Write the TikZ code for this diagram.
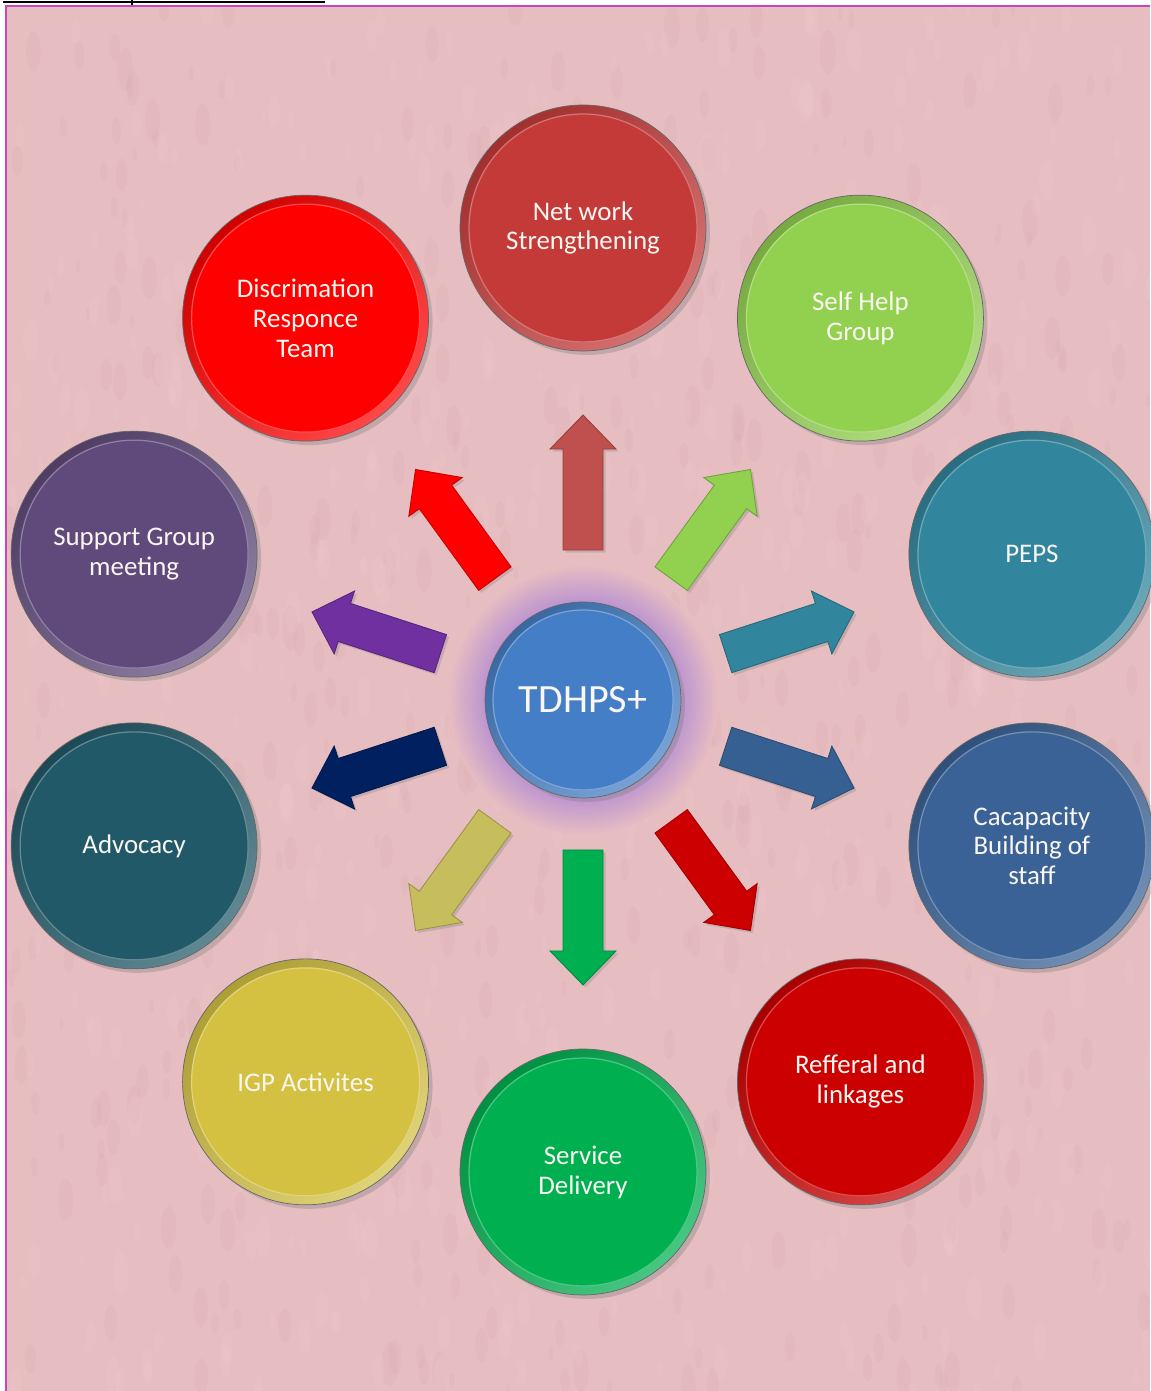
\documentclass[tikz,border=0pt]{standalone}
\usepackage{fontspec}
\setmainfont{Carlito}
\usetikzlibrary{calc,shadows}

\definecolor{bg}{RGB}{230,189,193}
\definecolor{bgdark}{RGB}{214,170,176}
\definecolor{bglight}{RGB}{242,208,211}
\definecolor{framec}{RGB}{200,70,185}
\definecolor{glowc}{RGB}{188,148,208}
\definecolor{txt}{RGB}{250,246,242}
% circle colours
\definecolor{cNet}{RGB}{196,58,56}
\definecolor{cSelf}{RGB}{146,208,80}
\definecolor{cPeps}{RGB}{49,133,156}
\definecolor{cCap}{RGB}{58,98,150}
\definecolor{cRef}{RGB}{204,0,0}
\definecolor{cServ}{RGB}{0,176,80}
\definecolor{cIgp}{RGB}{212,193,66}
\definecolor{cAdv}{RGB}{33,89,104}
\definecolor{cSup}{RGB}{96,74,123}
\definecolor{cDis}{RGB}{255,0,0}
\definecolor{cCtr}{RGB}{68,126,198}
% arrow colours
\definecolor{aNet}{RGB}{192,80,77}
\definecolor{aSelf}{RGB}{146,208,80}
\definecolor{aPeps}{RGB}{49,133,156}
\definecolor{aCap}{RGB}{55,96,146}
\definecolor{aRef}{RGB}{204,0,0}
\definecolor{aServ}{RGB}{0,176,80}
\definecolor{aIgp}{RGB}{198,190,92}
\definecolor{aAdv}{RGB}{0,32,96}
\definecolor{aSup}{RGB}{112,48,160}
\definecolor{aDis}{RGB}{255,0,0}

\pgfdeclareradialshading{glow}{\pgfpointorigin}{color(0bp)=(glowc); color(18bp)=(glowc); color(20.5bp)=(glowc!65!bg); color(25bp)=(bg); color(50bp)=(bg)}

\tikzset{
  face/.style={circle, inner sep=0pt, align=center, text=txt,
    font=\fontsize{15.3}{17}\selectfont, line width=0.7pt},
  rim/.style={draw=black!60, line width=0.4pt,
    drop shadow={opacity=0.35, shadow xshift=0.08cm, shadow yshift=-0.08cm}},
  arrowbody/.style={line width=0.5pt,
    drop shadow={opacity=0.3, shadow xshift=0.05cm, shadow yshift=-0.05cm}}
}

% name, position, colour, outer radius, face diameter, text
\newcommand\mybutton[6]{%
  \shade[rim, top color=#3!82!black, bottom color=#3!72!white, shading angle=45]
    (#2) circle (#4);
  \node[face, fill=#3, draw=#3!70!white, minimum size=#5] (#1) at (#2) {#6};
}
% from node, to node, colour
\newcommand\radarrow[3]{%
  \coordinate (tl) at ($(#1)!3cm!(#2)$);
  \coordinate (hd) at ($(#1)!5.02cm!(#2)$);
  \coordinate (tp) at ($(#1)!5.7cm!(#2)$);
  \filldraw[arrowbody, fill=#3, draw=#3!78!black]
    ($(tl)!0.4cm!90:(tp)$) -- ($(hd)!0.4cm!90:(tp)$) -- ($(hd)!0.66cm!90:(tp)$)
    -- (tp) -- ($(hd)!0.66cm!-90:(tp)$) -- ($(hd)!0.4cm!-90:(tp)$)
    -- ($(tl)!0.4cm!-90:(tp)$) -- cycle;
}

\begin{document}
\begin{tikzpicture}[x=0.02cm, y=0.02cm]
\useasboundingbox (0,0) rectangle (1150,1391);
\fill[white] (0,0) rectangle (1150,1391);
% background
\fill[bg] (6,0) rectangle (1150,1385);
\begin{scope}
  \clip (6,0) rectangle (1150,1385);
  \pgfmathsetseed{7}
  \foreach \i in {1,...,500}{
    \pgfmathsetmacro{\xx}{578+575*rand}
    \pgfmathsetmacro{\yy}{692+695*rand}
    \pgfmathsetmacro{\rr}{10+6*rand}
    \fill[bgdark, opacity=0.18] (\xx,\yy) ellipse ({\rr*0.5} and {\rr*1.4});
  }
  \foreach \i in {1,...,500}{
    \pgfmathsetmacro{\xx}{578+575*rand}
    \pgfmathsetmacro{\yy}{692+695*rand}
    \pgfmathsetmacro{\rr}{10+6*rand}
    \fill[bglight, opacity=0.18] (\xx,\yy) ellipse ({\rr*0.5} and {\rr*1.4});
  }
\end{scope}
\draw[framec, line width=0.045cm] (6,0) -- (6,1385) -- (1150,1385);
\draw[black, line width=0.04cm] (3,1389) -- (325,1389);
\draw[black, line width=0.04cm] (132,1391) -- (132,1386);

% centre
\coordinate (cpos) at (583,691);
\shade[shading=glow] (cpos) circle (2.7cm);
\mybutton{ctr}{cpos}{cCtr}{1.96cm}{3.6cm}{\fontsize{22.8}{26}\selectfont TDHPS+}

% surrounding buttons
\mybutton{n1}{$(cpos)+(90:472)$}{cNet}{2.46cm}{4.56cm}{Net work\\Strengthening}
\mybutton{n2}{$(cpos)+(54:472)$}{cSelf}{2.46cm}{4.56cm}{Self Help\\Group}
\mybutton{n3}{$(cpos)+(18:472)$}{cPeps}{2.46cm}{4.56cm}{PEPS}
\mybutton{n4}{$(cpos)+(-18:472)$}{cCap}{2.46cm}{4.56cm}{Cacapacity\\Building of\\staff}
\mybutton{n5}{$(cpos)+(-54:472)$}{cRef}{2.46cm}{4.56cm}{Refferal and\\linkages}
\mybutton{n6}{$(cpos)+(-90:472)$}{cServ}{2.46cm}{4.56cm}{Service\\Delivery}
\mybutton{n7}{$(cpos)+(-126:472)$}{cIgp}{2.46cm}{4.56cm}{IGP Activites}
\mybutton{n8}{$(cpos)+(-162:472)$}{cAdv}{2.46cm}{4.56cm}{Advocacy}
\mybutton{n9}{$(cpos)+(162:472)$}{cSup}{2.46cm}{4.56cm}{Support Group\\meeting}
\mybutton{n10}{$(cpos)+(126:472)$}{cDis}{2.46cm}{4.56cm}{Discrimation\\Responce\\Team}

% arrows
\radarrow{ctr}{n1}{aNet}
\radarrow{ctr}{n2}{aSelf}
\radarrow{ctr}{n3}{aPeps}
\radarrow{ctr}{n4}{aCap}
\radarrow{ctr}{n5}{aRef}
\radarrow{ctr}{n6}{aServ}
\radarrow{ctr}{n7}{aIgp}
\radarrow{ctr}{n8}{aAdv}
\radarrow{ctr}{n9}{aSup}
\radarrow{ctr}{n10}{aDis}
\end{tikzpicture}
\end{document}
